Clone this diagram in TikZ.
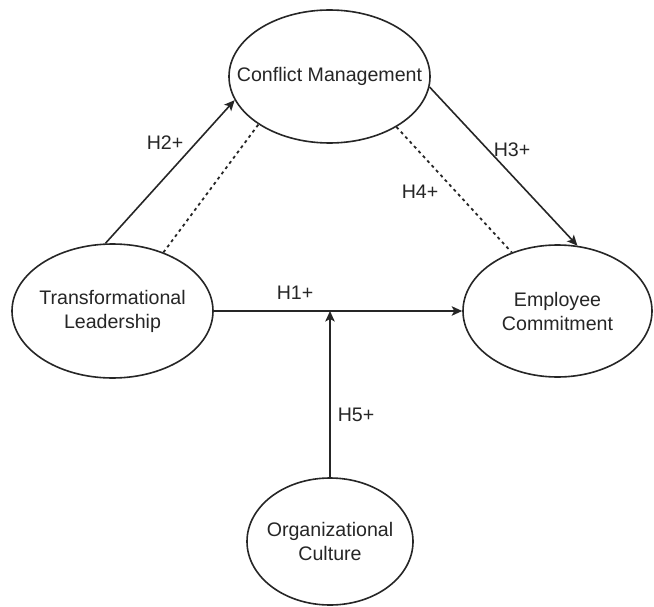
\documentclass[tikz,border=0pt]{standalone}
\usepackage{fontspec}
\setmainfont{Liberation Sans}
\usetikzlibrary{shapes.geometric,arrows.meta}
\definecolor{ink}{HTML}{262626}
\begin{document}
\begin{tikzpicture}[x=1bp,y=-1bp,
  construct/.style={ellipse, draw=ink, line width=1.6bp, fill=white, inner sep=0pt},
  caption/.style={align=center, text=ink, inner sep=0pt,
    font=\fontsize{19.6bp}{24bp}\selectfont},
  hyp/.style={text=ink, inner sep=0pt, font=\fontsize{19.6bp}{24bp}\selectfont},
  effect/.style={draw=ink, line width=1.6bp,
    -{Stealth[length=10.5bp,width=9.5bp,inset=2.5bp]}},
  mediation/.style={draw=ink, line width=1.8bp, dash pattern=on 3bp off 3.5bp}]
\useasboundingbox (0,0) rectangle (654,607);

% constructs
\node[construct, minimum width=201bp, minimum height=133bp] (cm) at (329.5,76.5) {};
\node[construct, minimum width=201bp, minimum height=134bp] (tl) at (112.5,311) {};
\node[construct, minimum width=189bp, minimum height=132bp] (ec) at (557.5,311) {};
\node[construct, minimum width=166bp, minimum height=127bp] (oc) at (330,541.5) {};

\node[caption] (cmtext) at (cm) {Conflict Management};
\node[caption] (tltext) at (tl) {Transformational\\Leadership};
\node[caption] (ectext) at (ec) {Employee\\Commitment};
\node[caption] (octext) at (oc) {Organizational\\Culture};

% hypothesised paths
\draw[effect] (tl.96) -- (cm.194);
\draw[mediation] (tl.49) -- (cm.214);
\draw[effect] (cm.-6) -- (ec.73);
\draw[mediation] (cm.-37) -- (ec.128);
\draw[effect] (tl.east) -- (ec.west);
\draw[effect] (oc.north) -- (oc.north |- tl.east);

% hypothesis labels
\node[hyp] (h1) at (295,293) {H1+};
\node[hyp] (h2) at (165,143) {H2+};
\node[hyp] (h3) at (512,150) {H3+};
\node[hyp] (h4) at (420,192) {H4+};
\node[hyp] (h5) at (356,415) {H5+};
\end{tikzpicture}
\end{document}
